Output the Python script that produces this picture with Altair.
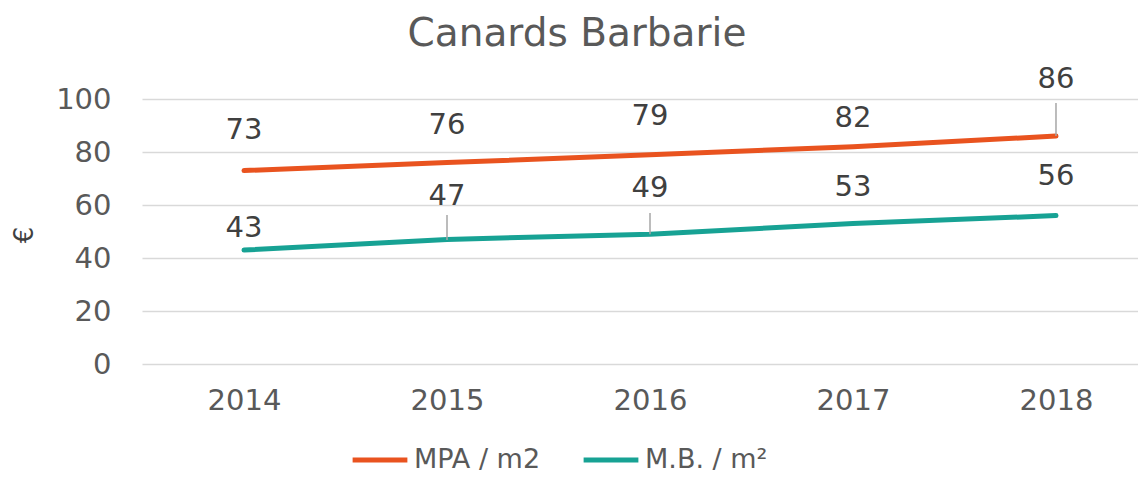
import altair as alt
import pandas as pd

years = [2014, 2015, 2016, 2017, 2018]
mpa = [73, 76, 79, 82, 86]
mb = [43, 47, 49, 53, 56]
series_names = ["MPA / m2", "M.B. / m²"]
colors = ["#E9531F", "#17A294"]
title_text = "Canards Barbarie"
y_title = "€"

# label anchor heights (in data units, as Excel placed them)
mpa_label_at = [88.3, 90.2, 93.6, 92.8, 107.5]
mb_label_at = [51.3, 63.4, 66.4, 66.8, 70.9]

# leader lines: year, from, to
leader_year = [2015, 2016, 2018]
leader_from = [56.2, 57.0, 98.5]
leader_to = [46.8, 49.0, 86.0]

rows = []
for i, y in enumerate(years):
    rows.append({"year": y, "series": series_names[0], "value": mpa[i], "lab": mpa_label_at[i]})
    rows.append({"year": y, "series": series_names[1], "value": mb[i], "lab": mb_label_at[i]})
df = pd.DataFrame(rows)
lead = pd.DataFrame({"year": leader_year, "y1": leader_from, "y2": leader_to})

FONT = "DejaVu Sans"
xscale = alt.Scale(domain=[2013.4975, 2018.404], nice=False, zero=False)
yscale = alt.Scale(domain=[0, 100], nice=False)

x = alt.X("year:Q", scale=xscale,
          axis=alt.Axis(values=years, format="d", grid=False, ticks=False, domain=False,
                        labelFontSize=29, labelColor="#595959", labelFont=FONT,
                        labelPadding=22, title=None, labelFlush=False))
y = alt.Y("value:Q", scale=yscale,
          axis=alt.Axis(values=[0, 20, 40, 60, 80, 100], grid=True, gridColor="#D9D9D9",
                        gridWidth=1.5, ticks=False, domain=False, labelFontSize=29,
                        labelColor="#595959", labelFont=FONT,
                        labelPadding=31, title=None))

color = alt.Color("series:N",
                  scale=alt.Scale(domain=series_names, range=colors),
                  legend=alt.Legend(title=None, orient="none", direction="horizontal",
                                    legendX=208, legendY=331, symbolType="stroke",
                                    symbolStrokeWidth=5, symbolSize=3000,
                                    labelFontSize=27, labelColor="#595959", labelFont=FONT,
                                    columnPadding=32, labelOffset=4))

lines = alt.Chart(df).mark_line(strokeWidth=5, strokeCap="round").encode(
    x=x, y=y, color=color, detail="series:N")

leaders = alt.Chart(lead).mark_rule(color="#A6A6A6", strokeWidth=1.5).encode(
    x=alt.X("year:Q", scale=xscale), y=alt.Y("y1:Q", scale=yscale), y2="y2:Q")

labels = alt.Chart(df).mark_text(fontSize=29, font=FONT, color="#404040",
                                 baseline="middle", clip=False).encode(
    x=alt.X("year:Q", scale=xscale), y=alt.Y("lab:Q", scale=yscale),
    text="value:Q")

ytitle = alt.Chart(pd.DataFrame({"t": [y_title]})).mark_text(
    fontSize=26, font=FONT, color="#404040", angle=270, baseline="middle",
    align="center"
).encode(x=alt.value(-117), y=alt.value(136), text="t:N")

title = alt.Chart(pd.DataFrame({"t": [title_text]})).mark_text(
    fontSize=39, font=FONT, color="#595959", baseline="middle", align="center"
).encode(x=alt.value(435), y=alt.value(-65), text="t:N")

chart = alt.layer(lines, leaders, labels, ytitle, title).properties(
    width=996, height=265,
    autosize=alt.AutoSizeParams(type="none"),
    padding={"left": 134, "top": 91, "right": 0, "bottom": 113},
).configure_view(stroke=None)

chart.save("out.html", embed_options={"renderer": "svg", "actions": False})
